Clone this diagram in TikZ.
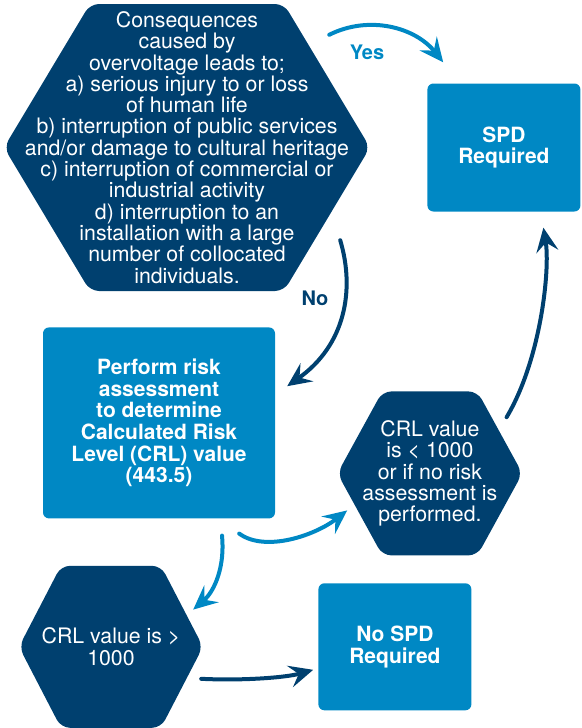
\documentclass[tikz,border=0pt]{standalone}
\usepackage{fontspec}
\setmainfont{TeX Gyre Heros}
\usepackage{tikz}
\usetikzlibrary{positioning, arrows.meta}
\definecolor{navy}{HTML}{00406F}
\definecolor{sky}{HTML}{0088C4}
\tikzset{
    hexagon/.style={rectangle, inner sep=0pt, text=white, align=center, font=\fontsize{21.3}{21.3}\selectfont,
        path picture={\fill[navy, rounded corners=9pt] (path picture bounding box.west) -- ([xshift=#1]path picture bounding box.north west) -- ([xshift=-#1]path picture bounding box.north east) -- (path picture bounding box.east) -- ([xshift=-#1]path picture bounding box.south east) -- ([xshift=#1]path picture bounding box.south west) -- cycle;}},
    boxnode/.style={rectangle, rounded corners=6pt, fill=sky, text=white, align=center, inner sep=0pt, font=\bfseries\fontsize{21}{21.7}\selectfont},
    lbl/.style={inner sep=0pt, font=\bfseries\fontsize{20}{20}\selectfont},
    larrow/.style={draw=sky, line width=4pt, line cap=round, -{Stealth[length=24pt, width=22pt, inset=9pt]}},
    darrow/.style={draw=navy, line width=4pt, line cap=round, -{Stealth[length=24pt, width=22pt, inset=9pt]}},
}

\begin{document}
\begin{tikzpicture}[x=1pt, y=-1pt]
    \useasboundingbox (0,0) rectangle (581,728);
    \node [hexagon=86pt, minimum width=366pt, minimum height=287pt] (cons) at (187,147.5) {Consequences\\caused by\\overvoltage leads to;\\a) serious injury to or loss\\of human life\\b) interruption of public services\\and/or damage to cultural heritage\\c) interruption of commercial or\\industrial activity\\d) interruption to an\\installation with a large\\number of collocated\\individuals.};
    \node [boxnode, minimum width=153pt, minimum height=128pt, right=57pt of cons] (spd) {SPD\\Required};
    \node [boxnode, minimum width=232pt, minimum height=191pt, below=36pt of cons, xshift=-28pt] (risk) {Perform risk\\assessment\\to determine\\Calculated Risk\\Level (CRL) value\\(443.5)};
    \node [hexagon=45pt, minimum width=185pt, minimum height=164pt, right=62pt of risk, yshift=-50.5pt] (low) {CRL value\\is < 1000\\or if no risk\\assessment is\\performed.};
    \node [hexagon=42pt, minimum width=184pt, minimum height=162pt, below=47pt of risk, xshift=-48pt] (high) {CRL value is >\\1000};
    \node [boxnode, minimum width=153pt, minimum height=127pt, right=115pt of high] (nospd) {No SPD\\Required};
    \node [lbl, text=sky] (yes) at (367,52) {Yes};
    \node [lbl, text=navy] (no) at (315,298) {No};
    \draw [larrow] ([shift={(-41,31)}]cons.north east) .. controls +(40,-20) and +(-28,-35) .. ([shift={(16,-21)}]spd.north west);
    \draw [darrow] ([shift={(-30,-51)}]cons.south east) .. controls +(15,50) and +(58,-41) .. ([shift={(12,59)}]risk.north east);
    \draw [larrow] ([shift={(-36,15)}]risk.south east) .. controls +(26,19) and +(-32,25) .. ([shift={(10,37)}]low.west);
    \draw [larrow] ([shift={(63,17)}]risk.south) .. controls +(3,30) and +(22,-19) .. ([shift={(-10,44)}]high.north east);
    \draw [darrow] ([shift={(-16,26)}]low.north east) .. controls +(34,-57) and +(7,42) .. ([shift={(39.5,16)}]spd.south);
    \draw [darrow] ([shift={(-2,32)}]high.east) .. controls +(39,2) and +(-28,8) .. ([shift={(-5,23)}]nospd.west);
\end{tikzpicture}
\end{document}
